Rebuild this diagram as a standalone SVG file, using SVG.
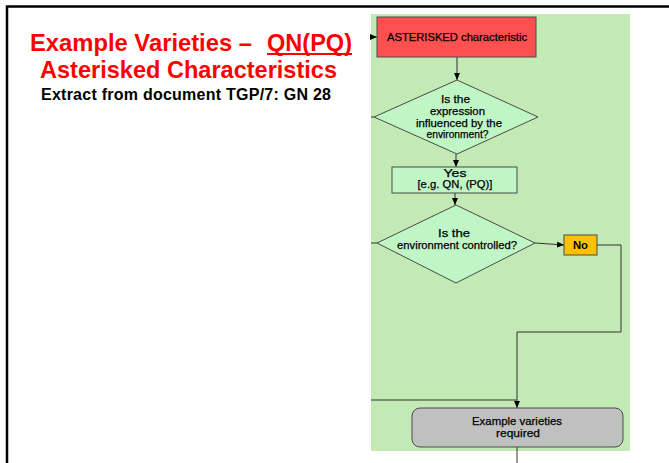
<svg xmlns="http://www.w3.org/2000/svg" width="669" height="463" viewBox="0 0 669 463">
<style>
.title{font-family:"Liberation Sans",Arial,sans-serif;font-weight:bold;fill:#FF0000;font-size:24px}
.sub{font-family:"Liberation Sans",Arial,sans-serif;font-weight:bold;fill:#000;font-size:16px}
.t{font-family:"Liberation Sans",Arial,sans-serif;fill:#000;font-size:11px;text-anchor:middle;stroke:#000;stroke-width:0.25}
.tb{font-family:"Liberation Sans",Arial,sans-serif;fill:#000;font-size:11px;font-weight:bold;text-anchor:middle}
.shape{stroke:#4a4a4a;stroke-width:1}
.con{fill:none;stroke:#333;stroke-width:1}
</style>
<defs>
<marker id="ah" markerWidth="7" markerHeight="6" refX="7" refY="3" orient="auto" markerUnits="userSpaceOnUse">
<path d="M0,0 L7,3 L0,6 Z" fill="#000"/>
</marker>
</defs>
<rect x="0" y="0" width="669" height="463" fill="#fff"/>
<rect x="7" y="6.5" width="700" height="500" fill="none" stroke="#000" stroke-width="2.5"/>

<g id="title">
<text class="title" x="30" y="51" textLength="222" lengthAdjust="spacingAndGlyphs">Example Varieties –</text>
<text class="title" x="267" y="51" textLength="85" lengthAdjust="spacingAndGlyphs">QN(PQ)</text>
<line x1="267" y1="54" x2="352" y2="54" stroke="#FF0000" stroke-width="2"/>
<text class="title" x="40" y="78" textLength="297" lengthAdjust="spacingAndGlyphs">Asterisked Characteristics</text>
<text class="sub" x="41" y="100" textLength="290">Extract from document TGP/7: GN 28</text>
</g>

<rect id="panel" x="371" y="14" width="259" height="437" fill="#C3EAB5"/>

<g id="connectors">
<line class="con" x1="371" y1="37" x2="377" y2="37" marker-end="url(#ah)"/>
<line class="con" x1="457" y1="57" x2="457" y2="80" marker-end="url(#ah)"/>
<line class="con" x1="371" y1="117" x2="374" y2="117"/>
<line class="con" x1="456" y1="154" x2="456" y2="167" marker-end="url(#ah)"/>
<line class="con" x1="455" y1="193" x2="455" y2="205" marker-end="url(#ah)"/>
<line class="con" x1="371" y1="243" x2="377" y2="243"/>
<line class="con" x1="535" y1="243" x2="564" y2="245" marker-end="url(#ah)"/>
<polyline class="con" points="597,245 621,245 621,332 517,332 517,408" marker-end="url(#ah)"/>
<line class="con" x1="371" y1="400" x2="517" y2="400"/>
<line class="con" x1="517" y1="447" x2="517" y2="463" stroke="#555"/>
</g>

<g id="asterisked">
<rect class="shape" x="377" y="17" width="159" height="40" fill="#FF5050"/>
<text class="t" x="457" y="41" textLength="140" lengthAdjust="spacingAndGlyphs">ASTERISKED characteristic</text>
</g>

<g id="decision1">
<polygon class="shape" points="457,80 538,117 457,154 374,117" fill="#C0F5C6"/>
<text class="t" x="455.5" y="103" textLength="29" lengthAdjust="spacingAndGlyphs">Is the</text>
<text class="t" x="457.5" y="115" textLength="55" lengthAdjust="spacingAndGlyphs">expression</text>
<text class="t" x="459" y="126.5" textLength="86" lengthAdjust="spacingAndGlyphs">influenced by the</text>
<text class="t" x="457.5" y="137.5" textLength="62" lengthAdjust="spacingAndGlyphs">environment?</text>
</g>

<g id="yes">
<rect class="shape" x="392" y="167" width="125" height="26" fill="#C0F5C6"/>
<text class="t" x="455" y="176.5" textLength="23" lengthAdjust="spacingAndGlyphs">Yes</text>
<text class="t" x="455" y="188" textLength="75" lengthAdjust="spacingAndGlyphs">[e.g. QN, (PQ)]</text>
</g>

<g id="decision2">
<polygon class="shape" points="456,205 535,243 456,283 377,243" fill="#C0F5C6"/>
<text class="t" x="454" y="237" textLength="32" lengthAdjust="spacingAndGlyphs">Is the</text>
<text class="t" x="457" y="249" textLength="120" lengthAdjust="spacingAndGlyphs">environment controlled?</text>
</g>

<g id="no">
<rect class="shape" x="564" y="235" width="33" height="20" fill="#FFC000"/>
<text class="tb" x="580.5" y="249" textLength="15" lengthAdjust="spacingAndGlyphs">No</text>
</g>

<g id="example">
<rect class="shape" x="412" y="408" width="211" height="39" rx="8" ry="8" fill="#C0C0C0"/>
<text class="t" x="517" y="425" textLength="90" lengthAdjust="spacingAndGlyphs">Example varieties</text>
<text class="t" x="518" y="437" textLength="44" lengthAdjust="spacingAndGlyphs">required</text>
</g>
</svg>
